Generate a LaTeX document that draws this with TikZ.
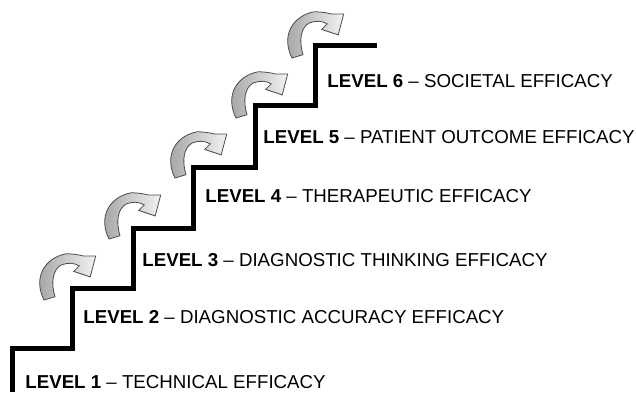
\documentclass[tikz,border=0pt]{standalone}
\usepackage{fontspec}
\setmainfont{Liberation Sans}
\tikzset{
  stair/.style={line width=2.5pt},
  lvl/.style={anchor=base west, inner sep=0pt, font=\fontsize{9.35}{11}\selectfont},
  turn/.pic={
    \path[scale=1.1, draw=gray!60!black, line width=0.4pt, left color=gray!75, right color=gray!10]
      (-20,-20) .. controls (-30,0) and (-20,18) .. (0,22)
      .. controls (7,22) and (12,21) .. (16,20)
      -- (27,20) -- (22,1) -- (7,6) -- (12,11)
      .. controls (7,14) and (2,14) .. (-4,12)
      .. controls (-12,8) and (-14,-4) .. (-10,-17) -- cycle;
  }
}
\begin{document}
\begin{tikzpicture}[x=0.5pt,y=0.5pt]
\useasboundingbox (0,0) rectangle (636,392);
\draw[stair] (12,0) -- (12,44) -- (72,44) -- (72,104) -- (133,104) -- (133,164)
  -- (193,164) -- (193,225) -- (255,225) -- (255,287) -- (315,287) -- (315,347) -- (377,347);
\node[lvl] (l1) at (25,4) {\textbf{LEVEL 1} -- TECHNICAL EFFICACY};
\node[lvl] (l2) at (83,69) {\textbf{LEVEL 2} -- DIAGNOSTIC ACCURACY EFFICACY};
\node[lvl] (l3) at (142,126) {\textbf{LEVEL 3} -- DIAGNOSTIC THINKING EFFICACY};
\node[lvl] (l4) at (205,190) {\textbf{LEVEL 4} -- THERAPEUTIC EFFICACY};
\node[lvl] (l5) at (263,249) {\textbf{LEVEL 5} -- PATIENT OUTCOME EFFICACY};
\node[lvl] (l6) at (327,305) {\textbf{LEVEL 6} -- SOCIETAL EFFICACY};
\pic at (66,114) {turn};
\pic at (131,175) {turn};
\pic at (197,236) {turn};
\pic at (258,296) {turn};
\pic at (314,356) {turn};
\end{tikzpicture}
\end{document}
